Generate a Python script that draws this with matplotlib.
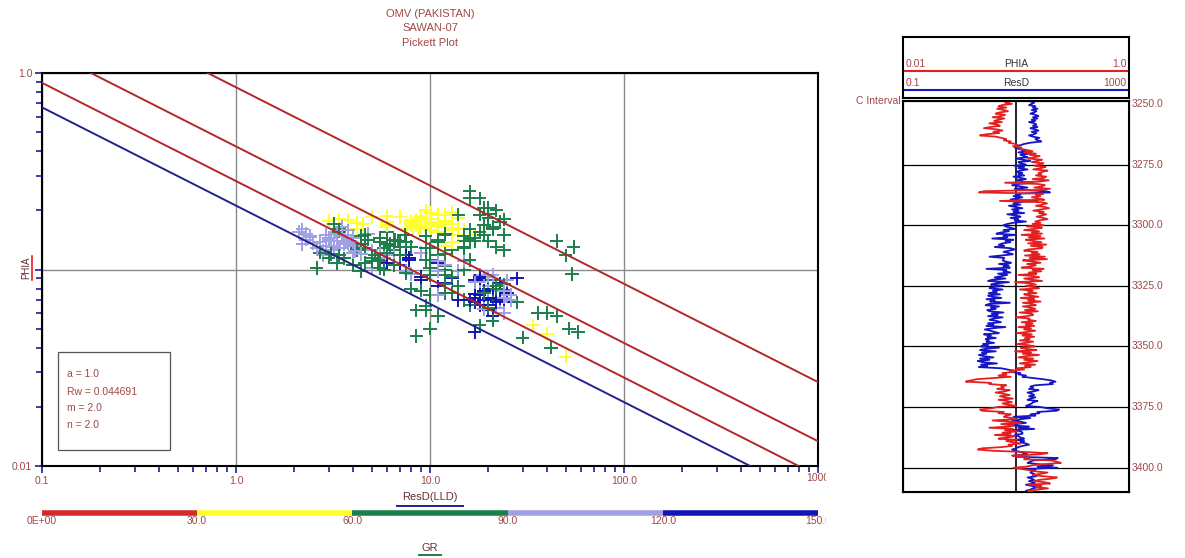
import numpy as np
import matplotlib
matplotlib.use("Agg")
import matplotlib.pyplot as plt
import matplotlib.patches as mpatches
from matplotlib.lines import Line2D
from matplotlib.ticker import NullFormatter
from matplotlib.transforms import Bbox, TransformedBbox, blended_transform_factory

plt.rcParams["font.family"] = ["Liberation Sans", "DejaVu Sans"]

TITLE_LINES = ["OMV (PAKISTAN)", "SAWAN-07", "Pickett Plot"]

# Archie parameters used for the Sw lines
A_COEF = 1.0
RW = 0.044691
M_EXP = 2.0
N_EXP = 2.0
SW_LINES = [1.0, 0.75, 0.5, 0.25]   # Sw = 1 is the water line

# log samples, 0.5 m step from 3249.0 m (one row = 10 m)
DEPTH_TOP = 3249.0
DEPTH_STEP = 0.5
DEPTH_BASE = 3410.0

PHIA = [
    .088, .080, .092, .075, .070, .082, .068, .078, .085, .072, .066, .080, .074, .062, .079, .070, .064, .075, .058, .068,
    .072, .060, .052, .068, .076, .063, .071, .055, .048, .066, .074, .082, .078, .090, .086, .098, .104, .094, .112, .108,
    .125, .140, .118, .150, .132, .162, .145, .128, .170, .155, .138, .175, .160, .148, .182, .165, .142, .190, .172, .158,
    .168, .150, .185, .176, .140, .195, .162, .080, .155, .180, .170, .145, .200, .160, .052, .047, .175, .150, .165, .138,
    .158, .178, .072, .165, .188, .172, .150, .180, .196, .168, .142, .176, .160, .185, .170, .152, .174, .190, .162, .148,
    .165, .140, .175, .125, .170, .148, .118, .160, .138, .170, .112, .165, .130, .178, .122, .142, .168, .128, .185, .135,
    .172, .170, .128, .118, .155, .138, .162, .120, .180, .132, .188, .115, .142, .165, .125, .150, .135, .112, .176, .140,
    .168, .130, .152, .105, .145, .160, .118, .140, .170, .098, .135, .150, .122, .145, .160, .108, .140, .128, .152, .118,
    .132, .158, .110, .145, .128, .165, .115, .140, .150, .115, .135, .148, .120, .156, .108, .138, .142, .125, .100, .132,
    .128, .150, .112, .140, .122, .145, .105, .136, .118, .148, .126, .102, .138, .114, .145, .120, .132, .108, .142, .124,
    .102, .130, .146, .110, .124, .152, .098, .136, .115, .160, .122, .105, .142, .118, .155, .128, .108, .148, .120, .135,
    .102, .118, .088, .095, .076, .082, .070, .090, .064, .045, .040, .036, .060, .058, .082, .074, .078, .068, .088, .080,
    .066, .078, .088, .072, .080, .094, .070, .084, .092, .076, .086, .100, .068, .060, .048, .050, .078, .070, .090, .082,
    .078, .092, .100, .062, .085, .110, .074, .096, .088, .058, .094, .080, .105, .076, .090, .065, .098, .084, .070, .102,
    .082, .094, .110, .086, .092, .074, .050, .046, .062, .120, .190, .160, .092, .110, .130, .118, .205, .230, .250, .180,
    .140, .125, .095, .112, .130, .150, .190, .165, .140, .175, .230, .205, .160, .145, .182, .200, .130, .168, .150, .192,
    .155, .128, .140,
]

RESD = [
    18, 21, 19, 17, 22, 20, 24, 19, 23, 21, 18, 22, 25, 20, 24, 19, 22, 17, 21, 23,
    20, 24, 18, 22, 25, 19, 23, 21, 17, 20, 26, 22, 24, 28, 18, 14, 12, 10, 9.5, 11,
    13, 15, 11, 17, 12, 14, 16, 10, 13, 18, 11, 12, 15, 9.5, 14, 11, 16, 12, 10, 13,
    11, 14, 9.0, 12, 15, 10, 13, 20, 11, 8.5, 12, 16, 9.5, 14, 34, 40, 10, 12, 9.0, 13,
    10, 8.0, 24, 11, 9.0, 12, 7.5, 10, 13, 8.5, 11, 9.0, 14, 7.0, 10, 12, 8.0, 11, 9.5, 15,
    9.0, 7.0, 6.0, 6.5, 8.0, 9.5, 6.0, 7.5, 5.5, 4.5, 10, 6.0, 7.0, 3.8, 9.0, 6.5, 8.0, 5.8, 5.0, 6.2,
    4.2, 8.0, 9.5, 7.5, 6.0, 7.5, 8.8, 5.5, 3.4, 6.2, 6.0, 5.8, 6.6, 8.2, 5.0, 7.4, 6.0, 7.8, 3.0, 6.8,
    6.0, 8.0, 4.8, 7.0, 5.5, 4.2, 6.5, 3.8, 3.2, 7.5, 4.4, 3.6, 6.0, 4.0, 3.4, 5.8, 3.9, 4.6, 3.3, 5.2,
    3.2, 3.8, 5.5, 3.0, 4.2, 3.5, 7.8, 3.3, 2.9, 5.0, 3.6, 4.4, 3.1, 3.4, 6.0, 3.7, 4.8, 3.2, 5.8, 4.0,
    3.4, 4.6, 5.4, 3.2, 4.0, 3.0, 6.5, 3.8, 2.8, 3.5, 4.2, 5.0, 2.7, 3.6, 3.1, 4.4, 2.9, 3.3, 3.0, 4.1,
    2.6, 3.2, 2.4, 5.0, 2.8, 2.3, 4.4, 2.5, 3.0, 2.2, 2.7, 4.0, 2.3, 3.4, 2.1, 2.6, 4.6, 2.4, 3.1, 2.2,
    5.5, 7.0, 9.0, 8.0, 12, 11, 15, 13, 20, 30, 42, 50, 40, 45, 22, 18, 20, 17, 25, 21,
    16, 19, 21, 17, 22, 18, 16, 24, 20, 19, 17, 15, 28, 36, 58, 52, 24, 26, 18, 22,
    9.0, 18, 12, 8.5, 12, 15, 10, 7.5, 17, 11, 21, 8.0, 12, 13, 13, 9.5, 11, 12, 14, 10,
    14, 12, 15, 17, 13, 11, 10, 8.5, 9.5, 12, 14, 16, 9.0, 11, 55, 50, 20, 18, 16, 24,
    45, 24, 54, 16, 22, 19, 18, 21, 20, 23, 16, 19, 21, 17, 20, 22, 15, 19, 24, 20,
    18, 15, 17,
]

GR = [
    128, 136, 110, 141, 124, 95, 132, 118, 139, 84, 127, 144, 106, 121, 76, 133, 115, 138, 125, 98,
    131, 112, 70, 140, 126, 99, 135, 82, 121, 146, 108, 130, 78, 124, 92, 118, 88, 62, 74, 129,
    68, 52, 74, 45, 58, 40, 49, 81, 36, 55, 63, 42, 38, 71, 34, 47, 66, 39, 44, 57,
    41, 53, 37, 48, 62, 35, 46, 125, 39, 44, 50, 72, 33, 57, 40, 43, 38, 65, 46, 52,
    55, 43, 105, 38, 47, 36, 64, 42, 34, 50, 78, 45, 40, 48, 37, 68, 44, 35, 58, 73,
    46, 72, 40, 85, 52, 61, 93, 48, 76, 57, 88, 48, 80, 44, 104, 70, 39, 82, 54, 75,
    58, 42, 78, 132, 63, 86, 47, 97, 55, 74, 49, 108, 67, 41, 90, 60, 81, 128, 53, 71,
    48, 75, 96, 124, 66, 55, 102, 91, 60, 115, 83, 98, 72, 106, 88, 119, 94, 70, 101, 85,
    104, 92, 77, 111, 86, 99, 125, 95, 108, 81, 117, 73, 102, 89, 129, 96, 69, 114, 84, 100,
    109, 87, 71, 103, 94, 113, 82, 98, 118, 90, 76, 106, 112, 85, 101, 93, 116, 79, 107, 97,
    74, 101, 92, 66, 111, 95, 83, 104, 69, 113, 87, 78, 99, 72, 108, 90, 64, 103, 81, 97,
    88, 72, 124, 96, 79, 131, 68, 110, 84, 73, 66, 42, 75, 70, 113, 126, 95, 134, 102, 120,
    71, 128, 80, 136, 66, 92, 141, 77, 115, 63, 122, 86, 70, 74, 68, 72, 118, 98, 127, 83,
    76, 121, 89, 67, 137, 102, 73, 84, 128, 65, 96, 79, 117, 69, 132, 81, 108, 74, 125, 88,
    86, 77, 103, 119, 68, 92, 65, 71, 88, 73, 67, 81, 123, 94, 73, 69, 66, 75, 79, 71,
    70, 68, 83, 77, 69, 64, 75, 62, 78, 71, 66, 73, 86, 60, 79, 67, 74, 63, 81, 72,
    70, 76, 65,
]

GR_BREAKS = [0.0, 30.0, 60.0, 90.0, 120.0, 150.0]
GR_LABELS = ["0E+00", "30.0", "60.0", "90.0", "120.0", "150.0"]
GR_COLORS = ["#d42a2a", "#ffff2e", "#1b7f4b", "#a0a0e4", "#1414b4"]

RES_TICKS = [0.1, 1.0, 10.0, 100.0, 1000.0]
RES_LABELS = ["0.1", "1.0", "10.0", "100.0", ""]
PHI_TICKS = [0.01, 0.1, 1.0]
PHI_LABELS = ["0.01", "", "1.0"]
DEPTH_MARKS = [3250, 3275, 3300, 3325, 3350, 3375, 3400]

TXT = "#a04848"
LINE_RED = "#b3262a"
LINE_BLUE = "#22228c"
TRACK_RED = "#e32020"
TRACK_BLUE = "#1616c4"

W, H = 1185, 558


def fx(px):
    return px / W


def fy(py):
    return 1 - py / H


def gr_color(v):
    for lo, hi, col in zip(GR_BREAKS[:-1], GR_BREAKS[1:], GR_COLORS):
        if lo <= v < hi:
            return col
    return GR_COLORS[-1]


phia = np.array(PHIA)
resd = np.array(RESD)
depth = DEPTH_TOP + DEPTH_STEP * np.arange(len(phia))

fig = plt.figure(figsize=(W / 100, H / 100), dpi=100)
clip = TransformedBbox(Bbox([[0, 0], [fx(826), 1]]), fig.transFigure)

for txt, py in zip(TITLE_LINES, [14, 28, 43]):
    fig.text(fx(430), fy(py), txt, ha="center", va="center", fontsize=8, color=TXT)

# ---- Pickett plot ----
ax = fig.add_axes([fx(42), fy(466), fx(776), 393 / H])
ax.set_xscale("log")
ax.set_yscale("log")
ax.set_xlim(0.1, 1000)
ax.set_ylim(0.01, 1.0)

ax.scatter(resd, phia, c=[gr_color(v) for v in GR], marker="+", s=95,
           linewidths=1.4, zorder=3)

rt = np.logspace(-1, 3, 200)
for sw in SW_LINES:
    phi = (A_COEF * RW / (rt * sw ** N_EXP)) ** (1 / M_EXP)
    ax.plot(rt, phi, color=LINE_BLUE if sw == 1.0 else LINE_RED, lw=1.4, zorder=4)

ax.set_xticks(RES_TICKS)
ax.set_xticklabels(RES_LABELS)
ax.set_yticks(PHI_TICKS)
ax.set_yticklabels(PHI_LABELS)
ax.xaxis.set_minor_formatter(NullFormatter())
ax.yaxis.set_minor_formatter(NullFormatter())
ax.grid(which="major", color="#8a8a8a", lw=1.0, zorder=1)
ax.tick_params(which="both", direction="out", color="#1a1aa0", width=1.2,
               labelsize=7.5, labelcolor=TXT, pad=2)
ax.tick_params(which="major", length=5)
ax.tick_params(which="minor", length=4)
for sp in ax.spines.values():
    sp.set_linewidth(1.5)

last = fig.text(fx(818), fy(478), "1000", ha="center", va="center",
                fontsize=7.5, color=TXT)
last.set_clip_box(clip)
last.set_clip_on(True)

# Archie parameter box
fig.patches.append(mpatches.Rectangle((fx(58), fy(450)), fx(112), 98 / H,
                                      transform=fig.transFigure, fill=False,
                                      ec="#555555", lw=0.9))
params = [f"a = {A_COEF:.1f}", f"Rw = {RW}", f"m = {M_EXP:.1f}", f"n = {N_EXP:.1f}"]
for txt, py in zip(params, [374, 392, 408, 425]):
    fig.text(fx(67), fy(py), txt, ha="left", va="center", fontsize=7.5, color=TXT)

# axis titles with their curve-colour underline
fig.text(fx(26), fy(268), "PHIA", rotation=90, ha="center", va="center",
         fontsize=7, color="#6a3030")
fig.add_artist(Line2D([fx(32), fx(32)], [fy(256), fy(280)], color=TRACK_RED, lw=1.2))
fig.text(fx(430), fy(497), "ResD(LLD)", ha="center", va="center", fontsize=8, color="#6a3030")
fig.add_artist(Line2D([fx(397), fx(463)], [fy(506), fy(506)], color=LINE_BLUE, lw=1.4))
fig.text(fx(430), fy(548), "GR", ha="center", va="center", fontsize=8, color="#6a3030")
fig.add_artist(Line2D([fx(419), fx(441)], [fy(555), fy(555)], color=GR_COLORS[2], lw=1.4))

# GR colour scale
gax = fig.add_axes([fx(42), fy(532), fx(776), 24 / H])
gax.set_xlim(GR_BREAKS[0], GR_BREAKS[-1])
gax.set_ylim(0, 1)
gax.axis("off")
for lo, hi, col in zip(GR_BREAKS[:-1], GR_BREAKS[1:], GR_COLORS):
    gax.hlines(0.79, lo, hi, colors=col, lw=4)
gtrans = blended_transform_factory(gax.transData, gax.transAxes)
for val, lab in zip(GR_BREAKS, GR_LABELS):
    t = fig.text(val, 0.44, lab, transform=gtrans, ha="center", va="center",
                 fontsize=7.5, color=TXT)
    t.set_clip_box(clip)
    t.set_clip_on(True)

# ---- log track header ----
hdr = fig.add_axes([fx(903), fy(98), fx(226), 61 / H])
hdr.set_xlim(0, 1)
hdr.set_ylim(0, 1)
hdr.set_xticks([])
hdr.set_yticks([])
for sp in hdr.spines.values():
    sp.set_linewidth(1.5)
hdr.axhline(0.44, color=TRACK_RED, lw=1.5)
hdr.axhline(0.13, color=TRACK_BLUE, lw=1.5)
for y, left, name, right in [(0.55, "0.01", "PHIA", "1.0"), (0.24, "0.1", "ResD", "1000")]:
    hdr.text(0.01, y, left, ha="left", va="center", fontsize=7.5, color=TXT)
    hdr.text(0.5, y, name, ha="center", va="center", fontsize=7.5, color="#333333")
    hdr.text(0.99, y, right, ha="right", va="center", fontsize=7.5, color=TXT)

# ---- log track ----
trk = fig.add_axes([fx(903), fy(492), fx(226), 391 / H])
trk.set_xscale("log")
trk.set_xlim(0.1, 1000)
trk.set_ylim(DEPTH_BASE, 3248.8)
for sp in trk.spines.values():
    sp.set_linewidth(1.5)
for d in DEPTH_MARKS[1:]:
    trk.axhline(d, color="black", lw=0.9)
trk.axvline(10, color="black", lw=1.2)
trk.plot(resd, depth, color=TRACK_BLUE, lw=1.3)

trk_phi = trk.twiny()
trk_phi.set_xscale("log")
trk_phi.set_xlim(0.01, 1.0)
trk_phi.plot(phia, depth, color=TRACK_RED, lw=1.3)

for a in (trk, trk_phi):
    a.tick_params(which="both", bottom=False, top=False, left=False, right=False,
                  labelbottom=False, labeltop=False, labelleft=False)

dtrans = blended_transform_factory(trk.transAxes, trk.transData)
for d in DEPTH_MARKS:
    trk.text(1.01, d, f"{d:.1f}", transform=dtrans, ha="left", va="center",
             fontsize=7.5, color=TXT)
trk.text(-0.01, 1.0, "C Interval", transform=trk.transAxes, ha="right",
         va="center", fontsize=7.5, color=TXT)

fig.savefig("out.png", dpi=100)
